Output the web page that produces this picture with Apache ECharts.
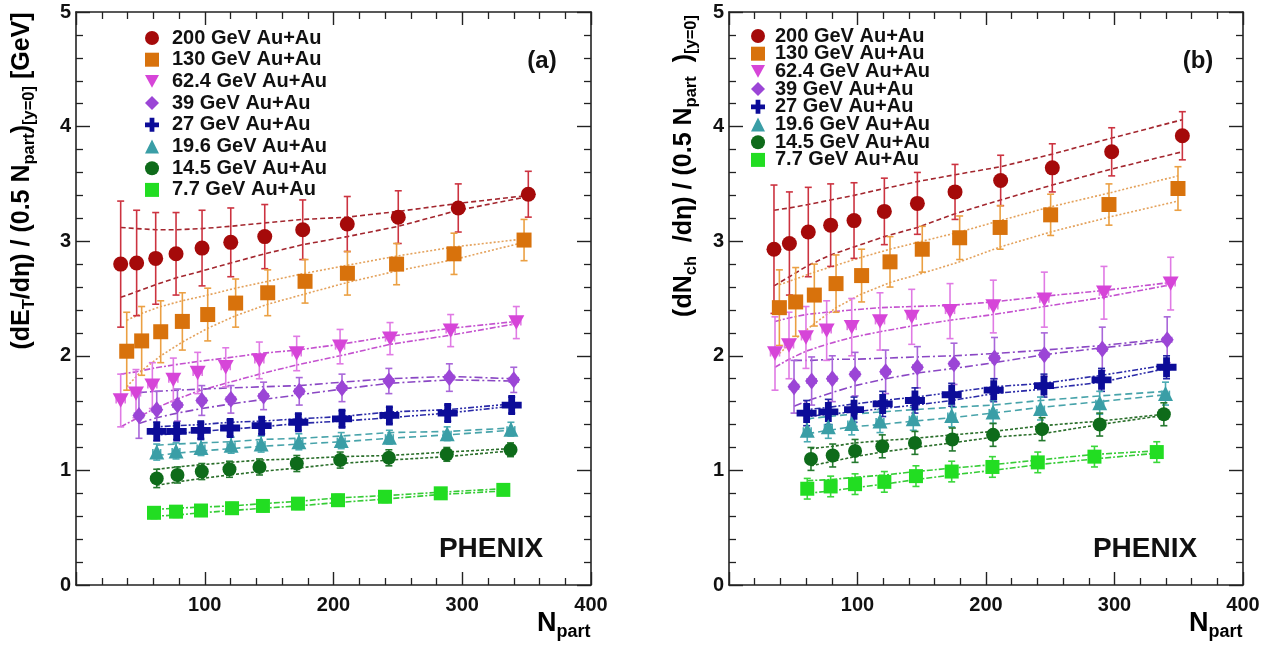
<!DOCTYPE html>
<html><head><meta charset="utf-8">
<script src="https://cdn.jsdelivr.net/npm/echarts@6/dist/echarts.min.js"></script>
<style>html,body{margin:0;padding:0;background:#fff}#c{width:1265px;height:645px}</style>
</head><body><div id="c"></div>
<script>
// ---------------- data ----------------
const energies = ['200 GeV Au+Au','130 GeV Au+Au','62.4 GeV Au+Au','39 GeV Au+Au','27 GeV Au+Au','19.6 GeV Au+Au','14.5 GeV Au+Au','7.7 GeV Au+Au'];
const xTicks = [100, 200, 300, 400];
const yTicks = [0, 1, 2, 3, 4, 5];
const npartUnc = [3, 3, 3.5, 3.5, 3, 3, 3, 3];

// panel (a): dE_T/deta / (0.5 Npart)
const a200_x = [34.7, 47.1, 61.9, 77.7, 97.9, 120.2, 146.6, 176.1, 210.7, 250.3, 296.9, 351.3];
const a200_y = [2.80, 2.81, 2.85, 2.89, 2.94, 2.99, 3.04, 3.10, 3.15, 3.21, 3.29, 3.41];
const a200_err = [0.55, 0.46, 0.40, 0.36, 0.33, 0.30, 0.28, 0.26, 0.24, 0.23, 0.21, 0.20];
const a200_hi = [3.12, 3.11, 3.10, 3.10, 3.11, 3.13, 3.16, 3.19, 3.21, 3.26, 3.33, 3.40];
const a200_lo = [2.51, 2.56, 2.62, 2.68, 2.74, 2.81, 2.89, 2.97, 3.04, 3.13, 3.27, 3.39];

const a130_x = [39.4, 51.0, 65.8, 82.6, 102.3, 124.0, 148.9, 177.9, 210.8, 249.0, 293.6, 348.0];
const a130_y = [2.04, 2.13, 2.21, 2.30, 2.36, 2.46, 2.55, 2.65, 2.72, 2.80, 2.89, 3.01];
const a130_err = [0.34, 0.30, 0.27, 0.25, 0.23, 0.21, 0.20, 0.19, 0.19, 0.18, 0.18, 0.18];
const a130_hi = [2.31, 2.37, 2.43, 2.48, 2.53, 2.59, 2.65, 2.72, 2.79, 2.87, 2.95, 3.02];
const a130_lo = [1.73, 1.87, 2.00, 2.12, 2.24, 2.35, 2.45, 2.54, 2.64, 2.74, 2.84, 2.99];

const a62_x = [34.7, 46.6, 59.3, 75.6, 94.5, 116.3, 142.4, 171.4, 205.1, 243.9, 291.0, 342.0];
const a62_y = [1.61, 1.67, 1.74, 1.79, 1.85, 1.90, 1.96, 2.02, 2.08, 2.15, 2.22, 2.29];
const a62_err = [0.23, 0.21, 0.20, 0.19, 0.18, 0.17, 0.16, 0.15, 0.15, 0.14, 0.14, 0.14];
const a62_hi = [1.84, 1.86, 1.89, 1.92, 1.95, 1.98, 2.02, 2.05, 2.10, 2.17, 2.24, 2.30];
const a62_lo = [1.38, 1.45, 1.53, 1.61, 1.69, 1.76, 1.84, 1.92, 2.00, 2.10, 2.18, 2.28];

const a39_x = [48.9, 62.7, 78.8, 97.7, 120.3, 145.7, 173.4, 206.6, 243.0, 290.0, 340.0];
const a39_y = [1.48, 1.53, 1.57, 1.61, 1.62, 1.65, 1.69, 1.72, 1.78, 1.81, 1.79];
const a39_err = [0.20, 0.16, 0.14, 0.13, 0.12, 0.12, 0.12, 0.12, 0.11, 0.12, 0.11];
const a39_hi = [1.68, 1.69, 1.70, 1.71, 1.72, 1.73, 1.74, 1.77, 1.80, 1.82, 1.80];
const a39_lo = [1.41, 1.46, 1.50, 1.54, 1.58, 1.62, 1.66, 1.71, 1.76, 1.79, 1.78];

const a27_x = [62.7, 78.2, 96.9, 119.7, 144.2, 172.7, 206.6, 243.4, 288.7, 338.4];
const a27_y = [1.34, 1.34, 1.35, 1.37, 1.39, 1.42, 1.45, 1.48, 1.50, 1.57];
const a27_err = [0.08, 0.07, 0.07, 0.07, 0.07, 0.07, 0.07, 0.07, 0.07, 0.07];
const a27_hi = [1.38, 1.39, 1.40, 1.42, 1.43, 1.45, 1.47, 1.51, 1.53, 1.58];
const a27_lo = [1.31, 1.32, 1.34, 1.36, 1.38, 1.41, 1.43, 1.46, 1.50, 1.56];

const a19_x = [62.7, 77.7, 97.1, 120.5, 143.8, 173.1, 206.0, 243.4, 288.3, 337.8];
const a19_y = [1.16, 1.17, 1.20, 1.22, 1.23, 1.25, 1.26, 1.29, 1.32, 1.36];
const a19_err = [0.07, 0.07, 0.07, 0.07, 0.07, 0.07, 0.07, 0.06, 0.06, 0.06];
const a19_hi = [1.22, 1.23, 1.24, 1.25, 1.27, 1.28, 1.30, 1.33, 1.34, 1.37];
const a19_lo = [1.13, 1.15, 1.17, 1.19, 1.21, 1.23, 1.25, 1.28, 1.31, 1.35];

const a14_x = [62.7, 78.8, 97.7, 119.2, 142.5, 171.5, 205.2, 243.0, 288.0, 337.5];
const a14_y = [0.93, 0.96, 0.99, 1.01, 1.03, 1.06, 1.09, 1.11, 1.14, 1.18];
const a14_err = [0.08, 0.07, 0.07, 0.07, 0.07, 0.07, 0.07, 0.07, 0.06, 0.06];
const a14_hi = [1.01, 1.03, 1.05, 1.07, 1.09, 1.10, 1.12, 1.13, 1.16, 1.19];
const a14_lo = [0.87, 0.90, 0.93, 0.96, 0.99, 1.02, 1.06, 1.09, 1.12, 1.17];

const a7_x = [60.6, 77.7, 97.1, 121.2, 145.2, 172.4, 203.5, 240.0, 283.3, 331.9];
const a7_y = [0.63, 0.64, 0.65, 0.67, 0.69, 0.71, 0.74, 0.77, 0.80, 0.83];
const a7_err = [0.05, 0.05, 0.05, 0.05, 0.05, 0.05, 0.05, 0.05, 0.04, 0.04];
const a7_hi = [0.66, 0.67, 0.68, 0.69, 0.71, 0.73, 0.76, 0.78, 0.81, 0.84];
const a7_lo = [0.60, 0.61, 0.63, 0.65, 0.67, 0.69, 0.72, 0.75, 0.79, 0.82];

// panel (b): dN_ch/deta / (0.5 Npart)
const b200_x = [35.0, 47.0, 61.7, 79.1, 97.3, 120.9, 146.6, 175.9, 211.4, 251.6, 297.8, 352.8];
const b200_y = [2.93, 2.98, 3.08, 3.14, 3.18, 3.26, 3.33, 3.43, 3.53, 3.64, 3.78, 3.92];
const b200_err = [0.56, 0.45, 0.39, 0.36, 0.33, 0.29, 0.27, 0.24, 0.22, 0.21, 0.21, 0.21];
const b200_hi = [3.27, 3.29, 3.32, 3.36, 3.40, 3.46, 3.52, 3.58, 3.65, 3.76, 3.90, 4.06];
const b200_lo = [2.61, 2.69, 2.79, 2.88, 2.95, 3.04, 3.12, 3.24, 3.36, 3.49, 3.63, 3.78];

const b130_x = [39.2, 51.9, 66.4, 83.3, 103.2, 125.3, 150.4, 179.5, 211.0, 250.3, 295.7, 349.4];
const b130_y = [2.42, 2.47, 2.53, 2.63, 2.70, 2.82, 2.93, 3.03, 3.12, 3.23, 3.32, 3.46];
const b130_err = [0.33, 0.30, 0.27, 0.25, 0.23, 0.22, 0.20, 0.19, 0.19, 0.18, 0.18, 0.19];
const b130_hi = [2.62, 2.67, 2.73, 2.79, 2.86, 2.93, 3.00, 3.08, 3.18, 3.30, 3.42, 3.57];
const b130_lo = [2.02, 2.15, 2.28, 2.42, 2.54, 2.64, 2.72, 2.82, 2.95, 3.08, 3.21, 3.35];

const b62_x = [35.8, 46.7, 59.9, 76.0, 95.5, 117.5, 142.2, 172.0, 205.7, 245.4, 291.8, 343.7];
const b62_y = [2.02, 2.09, 2.16, 2.22, 2.25, 2.30, 2.34, 2.39, 2.43, 2.49, 2.55, 2.63];
const b62_err = [0.32, 0.29, 0.27, 0.26, 0.25, 0.25, 0.24, 0.24, 0.23, 0.24, 0.23, 0.23];
const b62_hi = [2.30, 2.33, 2.36, 2.38, 2.40, 2.42, 2.43, 2.44, 2.47, 2.52, 2.57, 2.64];
const b62_lo = [1.90, 1.97, 2.04, 2.10, 2.16, 2.21, 2.26, 2.31, 2.36, 2.43, 2.51, 2.62];

const b39_x = [50.6, 64.3, 80.4, 98.1, 121.9, 146.6, 175.1, 206.6, 245.4, 290.5, 341.0];
const b39_y = [1.73, 1.78, 1.80, 1.84, 1.86, 1.90, 1.93, 1.98, 2.01, 2.06, 2.14];
const b39_err = [0.23, 0.21, 0.20, 0.19, 0.19, 0.18, 0.18, 0.18, 0.19, 0.19, 0.20];
const b39_hi = [1.96, 1.96, 1.97, 1.97, 1.98, 1.99, 2.00, 2.02, 2.05, 2.09, 2.15];
const b39_lo = [1.56, 1.62, 1.68, 1.74, 1.80, 1.85, 1.89, 1.94, 2.01, 2.07, 2.13];

const b27_x = [60.4, 77.3, 97.3, 119.6, 144.7, 173.3, 206.0, 245.1, 289.9, 340.5];
const b27_y = [1.50, 1.51, 1.53, 1.58, 1.61, 1.66, 1.70, 1.74, 1.79, 1.90];
const b27_err = [0.11, 0.11, 0.11, 0.11, 0.11, 0.10, 0.10, 0.10, 0.10, 0.10];
const b27_hi = [1.53, 1.55, 1.58, 1.61, 1.64, 1.68, 1.73, 1.76, 1.83, 1.92];
const b27_lo = [1.47, 1.49, 1.51, 1.54, 1.57, 1.61, 1.67, 1.71, 1.77, 1.89];

const b19_x = [60.9, 77.3, 95.5, 117.5, 143.4, 173.3, 205.5, 242.4, 288.5, 339.7];
const b19_y = [1.35, 1.38, 1.41, 1.43, 1.45, 1.48, 1.51, 1.54, 1.59, 1.67];
const b19_err = [0.10, 0.10, 0.10, 0.10, 0.10, 0.10, 0.10, 0.10, 0.10, 0.10];
const b19_hi = [1.45, 1.47, 1.49, 1.51, 1.53, 1.55, 1.57, 1.61, 1.65, 1.69];
const b19_lo = [1.32, 1.35, 1.38, 1.40, 1.43, 1.46, 1.50, 1.55, 1.60, 1.66];

const b14_x = [63.8, 80.7, 98.1, 119.3, 144.7, 173.8, 205.5, 243.6, 288.5, 338.4];
const b14_y = [1.10, 1.13, 1.17, 1.21, 1.24, 1.27, 1.31, 1.36, 1.40, 1.49];
const b14_err = [0.10, 0.10, 0.10, 0.10, 0.10, 0.10, 0.10, 0.10, 0.10, 0.10];
const b14_hi = [1.19, 1.21, 1.24, 1.26, 1.28, 1.31, 1.34, 1.39, 1.43, 1.49];
const b14_lo = [1.04, 1.08, 1.12, 1.16, 1.20, 1.24, 1.29, 1.32, 1.40, 1.48];

const b7_x = [60.9, 79.1, 98.1, 120.9, 145.5, 173.3, 205.0, 240.3, 284.4, 332.9];
const b7_y = [0.84, 0.86, 0.88, 0.90, 0.95, 0.99, 1.03, 1.07, 1.12, 1.16];
const b7_err = [0.09, 0.09, 0.09, 0.09, 0.09, 0.09, 0.09, 0.09, 0.09, 0.09];
const b7_hi = [0.91, 0.92, 0.94, 0.96, 0.99, 1.02, 1.05, 1.09, 1.14, 1.17];
const b7_lo = [0.80, 0.82, 0.85, 0.88, 0.92, 0.96, 1.00, 1.05, 1.10, 1.15];

// ---------------- styles ----------------
const FONT = "'Liberation Sans', Arial, Helvetica, sans-serif";
const TRI_DOWN = 'path://M0,0 L100,0 L50,90 Z';
const CROSS = 'path://M33,0 H67 V33 H100 V67 H67 V100 H33 V67 H0 V33 H33 Z';
const styles = [
  {c:'#a50a0a', e:'#cc3340', l:'#a3262e', sym:'circle', size:15, dash:[5,3]},
  {c:'#d8720c', e:'#eba043', l:'#e4a25c', sym:'rect', size:15, dash:[2,2]},
  {c:'#d645d8', e:'#e07ae4', l:'#c451cf', sym:TRI_DOWN, size:16, dash:[6,2,2,2]},
  {c:'#9b45d6', e:'#a866d9', l:'#8a47c4', sym:'diamond', size:[13,17], dash:[8,3,2,3]},
  {c:'#0c0c98', e:'#2626a6', l:'#2a2aa8', sym:CROSS, size:20, dash:[2,2,2,2,6,2]},
  {c:'#3a9ea6', e:'#4aaab2', l:'#47a3aa', sym:'triangle', size:15, dash:[7,4]},
  {c:'#0e6b1a', e:'#24792e', l:'#2a6e2a', sym:'circle', size:14, dash:[3,2]},
  {c:'#22dd22', e:'#3ad83a', l:'#36cc36', sym:'rect', size:14, dash:[6,2,2,2]}
];

const panels = [
  [
    {x:a200_x,y:a200_y,e:a200_err,hi:a200_hi,lo:a200_lo},
    {x:a130_x,y:a130_y,e:a130_err,hi:a130_hi,lo:a130_lo},
    {x:a62_x,y:a62_y,e:a62_err,hi:a62_hi,lo:a62_lo},
    {x:a39_x,y:a39_y,e:a39_err,hi:a39_hi,lo:a39_lo},
    {x:a27_x,y:a27_y,e:a27_err,hi:a27_hi,lo:a27_lo},
    {x:a19_x,y:a19_y,e:a19_err,hi:a19_hi,lo:a19_lo},
    {x:a14_x,y:a14_y,e:a14_err,hi:a14_hi,lo:a14_lo},
    {x:a7_x,y:a7_y,e:a7_err,hi:a7_hi,lo:a7_lo}
  ],
  [
    {x:b200_x,y:b200_y,e:b200_err,hi:b200_hi,lo:b200_lo},
    {x:b130_x,y:b130_y,e:b130_err,hi:b130_hi,lo:b130_lo},
    {x:b62_x,y:b62_y,e:b62_err,hi:b62_hi,lo:b62_lo},
    {x:b39_x,y:b39_y,e:b39_err,hi:b39_hi,lo:b39_lo},
    {x:b27_x,y:b27_y,e:b27_err,hi:b27_hi,lo:b27_lo},
    {x:b19_x,y:b19_y,e:b19_err,hi:b19_hi,lo:b19_lo},
    {x:b14_x,y:b14_y,e:b14_err,hi:b14_hi,lo:b14_lo},
    {x:b7_x,y:b7_y,e:b7_err,hi:b7_hi,lo:b7_lo}
  ]
];

// ---------------- chart ----------------
const chart = echarts.init(document.getElementById('c'), null, {renderer:'canvas'});

function errRender(color) {
  return function (params, api) {
    const x = api.value(0), y = api.value(1), e = api.value(2), xe = api.value(3);
    const c = api.coord([x, y]);
    const t = api.coord([x, y + e]);
    const b = api.coord([x, y - e]);
    const l = api.coord([x - xe, y]);
    const r = api.coord([x + xe, y]);
    const st = {stroke: color, lineWidth: 1.6};
    return {type:'group', children:[
      {type:'line', shape:{x1:c[0], y1:t[1], x2:c[0], y2:b[1]}, style:st},
      {type:'line', shape:{x1:c[0]-3.5, y1:t[1], x2:c[0]+3.5, y2:t[1]}, style:st},
      {type:'line', shape:{x1:c[0]-3.5, y1:b[1], x2:c[0]+3.5, y2:b[1]}, style:st},
      {type:'line', shape:{x1:l[0], y1:c[1], x2:r[0], y2:c[1]}, style:st},
      {type:'line', shape:{x1:l[0], y1:c[1]-3, x2:l[0], y2:c[1]+3}, style:st},
      {type:'line', shape:{x1:r[0], y1:c[1]-3, x2:r[0], y2:c[1]+3}, style:st}
    ]};
  };
}

const series = [];
panels.forEach((panel, p) => {
  const xi = p * 2, yi = p * 2;
  panel.forEach((d, k) => {
    const s = styles[k];
    ['hi', 'lo'].forEach(key => {
      series.push({
        type:'line', name:'band', xAxisIndex:xi, yAxisIndex:yi, z:2,
        data: d.x.map((x, i) => [x, d[key][i]]),
        symbol:'none', silent:true,
        lineStyle:{color:s.l, width:1.6, type:s.dash}
      });
    });
    series.push({
      type:'custom', name:'err', xAxisIndex:xi, yAxisIndex:yi, z:3, silent:true,
      renderItem: errRender(s.e),
      encode:{x:0, y:1},
      data: d.x.map((x, i) => [x, d.y[i], d.e[i], npartUnc[k]])
    });
    series.push({
      type:'scatter', name:energies[k], xAxisIndex:xi, yAxisIndex:yi, z:4,
      symbol:s.sym, symbolSize:s.size, symbolKeepAspect:true,
      itemStyle:{color:s.c, opacity:1},
      data: d.x.map((x, i) => [x, d.y[i]])
    });
  });
});

function xAxis(gi, pos, showLabel) {
  return {
    type:'value', gridIndex:gi, position:pos, min:0, max:400, interval:100,
    axisLine:{show:true, onZero:false, lineStyle:{color:'#222', width:1.6}},
    axisTick:{show:true, inside:true, length:13, lineStyle:{color:'#222', width:1.4}},
    minorTick:{show:true, splitNumber:5, length:7, lineStyle:{color:'#222', width:1.3}},
    splitLine:{show:false}, minorSplitLine:{show:false},
    axisLabel:{show:showLabel, margin:10, fontSize:20, fontWeight:'bold', color:'#111', fontFamily:FONT,
      formatter: v => xTicks.includes(v) ? String(v) : ''}
  };
}
function yAxis(gi, pos, showLabel) {
  return {
    type:'value', gridIndex:gi, position:pos, min:0, max:5, interval:1,
    axisLine:{show:true, onZero:false, lineStyle:{color:'#222', width:1.6}},
    axisTick:{show:true, inside:true, length:14, lineStyle:{color:'#222', width:1.4}},
    minorTick:{show:true, splitNumber:5, length:7, lineStyle:{color:'#222', width:1.3}},
    splitLine:{show:false}, minorSplitLine:{show:false},
    axisLabel:{show:showLabel, margin:5, fontSize:20, fontWeight:'bold', color:'#111', fontFamily:FONT,
      formatter: v => yTicks.includes(v) ? String(v) : ''}
  };
}

const titleRich = {
  m:{fontSize:25, fontWeight:'bold', fontFamily:FONT, color:'#111', lineHeight:32},
  s:{fontSize:16.5, fontWeight:'bold', fontFamily:FONT, color:'#111', lineHeight:16, verticalAlign:'bottom'}
};
const nRich = {
  N:{fontSize:27, fontWeight:'bold', fontFamily:FONT, color:'#111', lineHeight:34},
  s:{fontSize:18, fontWeight:'bold', fontFamily:FONT, color:'#111', lineHeight:18, verticalAlign:'bottom'}
};
function txt(x, y, text, size, align) {
  return {type:'text', x:x, y:y, silent:true, style:{text:text, fontSize:size, fontWeight:'bold', fontFamily:FONT, fill:'#111', align:align||'center', verticalAlign:'middle'}};
}

const legendBase = {
  orient:'vertical', selectedMode:false, data:energies, padding:0,
  itemWidth:14, itemHeight:14, symbolKeepAspect:true
};

chart.setOption({
  animation:false,
  backgroundColor:'#ffffff',
  grid:[
    {left:76, top:12, width:515, height:573},
    {left:729, top:12, width:514, height:573}
  ],
  xAxis:[xAxis(0,'bottom',true), xAxis(0,'top',false), xAxis(1,'bottom',true), xAxis(1,'top',false)],
  yAxis:[yAxis(0,'left',true), yAxis(0,'right',false), yAxis(1,'left',true), yAxis(1,'right',false)],
  legend:[
    Object.assign({}, legendBase, {left:145, top:28, itemGap:1.7,
      textStyle:{fontSize:20, fontWeight:'bold', fontFamily:FONT, color:'#111', padding:[0,0,0,8]}}),
    Object.assign({}, legendBase, {left:751, top:26, itemGap:-2.3,
      textStyle:{fontSize:20, fontWeight:'bold', fontFamily:FONT, color:'#111', padding:[0,0,0,5]}})
  ],
  graphic:[
    {type:'text', x:22, y:181, rotation:Math.PI/2, silent:true,
      style:{text:'{m|(dE}{s|T}{m|/dη) / (0.5 N}{s|part}{m|)}{s|[y=0]}{m| [GeV]}', rich:titleRich, align:'center', verticalAlign:'middle'}},
    {type:'text', x:684, y:166, rotation:Math.PI/2, silent:true,
      style:{text:'{m|(dN}{s|ch}{m|  /dη) / (0.5 N}{s|part}{m|  )}{s|[y=0]}', rich:titleRich, align:'center', verticalAlign:'middle'}},
    {type:'text', x:537, y:624, silent:true, style:{text:'{N|N}{s|part}', rich:nRich, align:'left', verticalAlign:'middle'}},
    {type:'text', x:1189, y:624, silent:true, style:{text:'{N|N}{s|part}', rich:nRich, align:'left', verticalAlign:'middle'}},
    txt(542, 61, '(a)', 24),
    txt(1198, 61, '(b)', 24),
    txt(491, 549, 'PHENIX', 28),
    txt(1145, 549, 'PHENIX', 28)
  ],
  series: series
});
</script>
</body></html>
